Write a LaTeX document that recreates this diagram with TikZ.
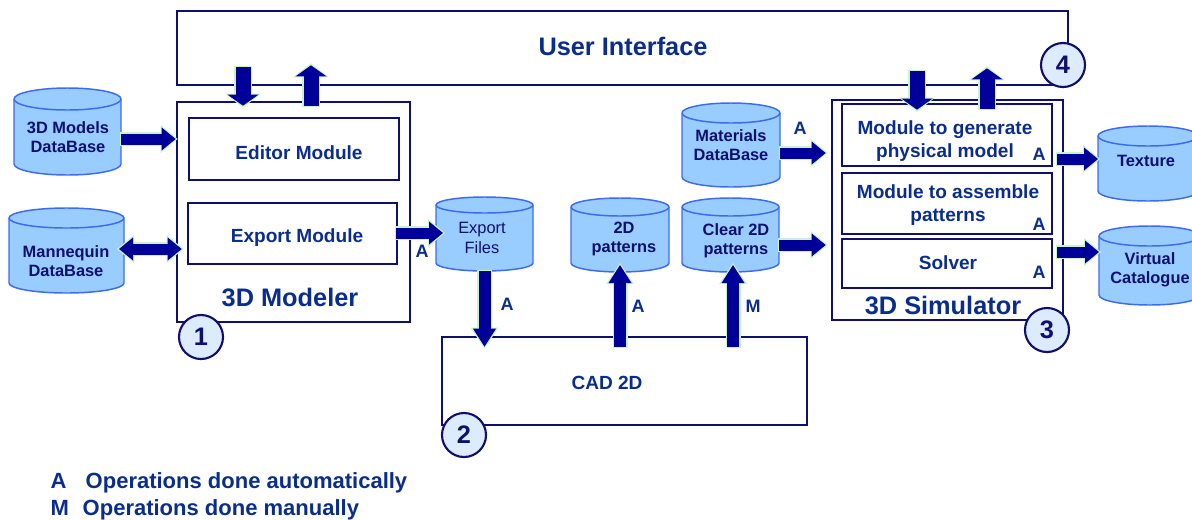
\documentclass[tikz,border=0pt]{standalone}
\usepackage{fontspec}
\setmainfont{Liberation Sans}
\usetikzlibrary{arrows.meta,calc,fit}

\definecolor{navyline}{HTML}{0F0F6E}
\definecolor{textblue}{HTML}{0A2D8C}
\definecolor{arrowblue}{HTML}{000099}
\definecolor{arrowedge}{HTML}{C8F5C8}
\definecolor{dbfill}{HTML}{99CCFF}
\definecolor{dbedge}{HTML}{3D6BF0}
\definecolor{circfill}{HTML}{DDEBFF}

% database cylinder: name, left, top, right, bottom, radius of the end ellipses
\newcommand\dbcyl[6]{%
  \path[dbshape] (#2,#3+#6) -- (#2,#5-#6)
    arc[start angle=180,end angle=0,x radius={(#4-#2)/2},y radius=#6]
    -- (#4,#3+#6)
    arc[start angle=0,end angle=-180,x radius={(#4-#2)/2},y radius=#6] -- cycle;
  \draw[dbshape,fill=none] (#2,#3+#6)
    arc[start angle=180,end angle=0,x radius={(#4-#2)/2},y radius=#6];
  \node[inner sep=0pt,outer sep=0pt,fit={(#2,#3) (#4,#5)}] (#1) {};
}
% block arrow: kind (big/med/dbl/cad), start, end
\newcommand\blockarrow[3]{%
  \draw[#1G] #2 -- #3;
  \draw[#1A] #2 -- #3;
}

\begin{document}
\begin{tikzpicture}[x=0.75pt,y=-0.75pt,
  frame/.style={draw=navyline,line width=2pt,inner sep=0pt},
  module/.style={draw=navyline,line width=1.8pt,inner sep=0pt},
  dbshape/.style={fill=dbfill,draw=dbedge,line width=1.1pt},
  title/.style={text=textblue,font=\bfseries\fontsize{19}{22}\selectfont},
  modtext/.style={text=textblue,align=center,font=\bfseries\fontsize{14.3}{17}\selectfont},
  dbtext/.style={text=navyline,align=center,font=\bfseries\fontsize{12.3}{14.5}\selectfont},
  lbl/.style={text=textblue,font=\bfseries\fontsize{13.5}{16}\selectfont},
  legend/.style={text=textblue,anchor=base west,font=\bfseries\fontsize{16.5}{19}\selectfont},
  numc/.style={circle,draw=navyline,line width=1.6pt,fill=circfill,minimum size=33pt,
    inner sep=0pt,text=navyline,font=\bfseries\fontsize{19}{22}\selectfont},
  bigA/.style={draw=arrowblue,line width=11.25pt,
    -{Triangle[length=8.25pt,width=23.25pt,line width=0pt]}},
  bigG/.style={draw=arrowedge,line width=13.5pt,shorten >=-1.5pt,shorten <=-1.1pt,
    -{Triangle[length=10.5pt,width=27pt,line width=0pt]}},
  medA/.style={draw=arrowblue,line width=8.25pt,
    -{Triangle[length=10.5pt,width=17.25pt,line width=0pt]}},
  medG/.style={draw=arrowedge,line width=10.5pt,shorten >=-1.5pt,shorten <=-1.1pt,
    -{Triangle[length=12.75pt,width=21pt,line width=0pt]}},
  dblA/.style={draw=arrowblue,line width=8.25pt,
    {Triangle[length=10.5pt,width=17.25pt,line width=0pt]}-{Triangle[length=10.5pt,width=17.25pt,line width=0pt]}},
  dblG/.style={draw=arrowedge,line width=10.5pt,shorten >=-1.5pt,shorten <=-1.5pt,
    {Triangle[length=12.75pt,width=21pt,line width=0pt]}-{Triangle[length=12.75pt,width=21pt,line width=0pt]}},
  cadA/.style={draw=arrowblue,line width=9pt,
    -{Triangle[length=13.5pt,width=17.25pt,line width=0pt]}},
  cadG/.style={draw=arrowedge,line width=11.25pt,shorten >=-1.5pt,shorten <=-1.1pt,
    -{Triangle[length=15.75pt,width=21pt,line width=0pt]}},
]
\useasboundingbox (0,0) rectangle (1192,519);
\clip (0,0) rectangle (1192,519);

% ---- blocks ----
\node[frame,fit={(177,11) (1068,85)}] (ui) {};
\node[frame,fit={(177,102) (410,322)}] (modeler) {};
\node[module,fit={(189,118) (399,180)}] (editor) {};
\node[module,fit={(188,203) (397,264)}] (exportm) {};
\node[frame,fit={(442,337) (807,425)}] (cad) {};
\node[frame,fit={(832,100) (1063,320)}] (sim) {};
\node[module,fit={(842,104) (1052,166)}] (gen) {};
\node[module,fit={(842,173) (1052,234)}] (asm) {};
\node[module,fit={(842,239) (1052,288)}] (solver) {};

\node[title] (uit) at (623,46) {User Interface};
\node[title] (modt) at (290,297) {3D Modeler};
\node[title] (simt) at (943,305) {3D Simulator};
\node[modtext] (editt) at (299,153) {Editor Module};
\node[modtext] (expt) at (297,238) {Export Module};
\node[modtext] (gent) at (945,141) {Module to generate\\physical model};
\node[modtext] (asmt) at (948,205) {Module to assemble\\patterns};
\node[modtext] (solt) at (948,263) {Solver};
\node[modtext] (cadt) at (607,383) {CAD 2D};

% ---- databases ----
\dbcyl{db3d}{14}{88}{121}{175}{11}
\dbcyl{mann}{9}{208}{124}{293}{10}
\dbcyl{expf}{436}{197}{533}{271}{8}
\dbcyl{pat2d}{571}{198}{669}{272}{9}
\dbcyl{clear}{682}{198}{779}{272}{9}
\dbcyl{mat}{682}{103}{780}{187}{10}
\dbcyl{tex}{1098}{126}{1198}{201}{10}
\dbcyl{virt}{1099}{226}{1200}{305}{10}

\node[dbtext] (db3dt) at (68,137) {3D Models\\DataBase};
\node[dbtext] (mannt) at (66,261) {Mannequin\\DataBase};
\node[dbtext,font=\fontsize{12.3}{14.5}\selectfont] (expft) at (482,238) {Export\\Files};
\node[dbtext] (pat2dt) at (624,239) {2D\\patterns};
\node[dbtext] (cleart) at (736,241) {Clear 2D\\patterns};
\node[dbtext] (matt) at (731,145) {Materials\\DataBase};
\node[dbtext] (text) at (1146,161) {Texture};
\node[dbtext] (virtt) at (1150,270) {Virtual\\Catalogue};

% ---- connectors ----
\blockarrow{big}{($(ui.south -| 243,0)+(0,-19)$)}{($(modeler.north -| 243,0)+(0,5)$)}
\blockarrow{big}{($(modeler.north -| 311,0)+(0,5)$)}{($(ui.south -| 311,0)+(0,-21)$)}
\blockarrow{big}{($(ui.south -| 917,0)+(0,-15)$)}{($(sim.north -| 917,0)+(0,11)$)}
\blockarrow{big}{($(sim.north -| 987,0)+(0,10)$)}{($(ui.south -| 987,0)+(0,-18)$)}

\blockarrow{med}{(db3d.east |- 0,139)}{(modeler.west |- 0,139)}
\blockarrow{dbl}{($(mann.east |- 0,249)+(-5,0)$)}{($(modeler.west |- 0,249)+(6,0)$)}
\blockarrow{med}{($(exportm.east |- 0,233)+(-2,0)$)}{($(expf.west |- 0,233)+(7,0)$)}
\blockarrow{med}{(mat.east |- 0,153)}{($(sim.west |- 0,153)+(-5,0)$)}
\blockarrow{med}{(clear.east |- 0,245)}{($(sim.west |- 0,245)+(-5,0)$)}
\blockarrow{med}{($(sim.east |- 0,159)+(-7,0)$)}{(tex.west |- 0,159)}
\blockarrow{med}{($(sim.east |- 0,252)+(-7,0)$)}{(virt.west |- 0,252)}

\blockarrow{cad}{(expf.south)}{($(cad.north -| expf.south)+(0,11)$)}
\blockarrow{cad}{($(cad.north -| pat2d.south)+(0,11)$)}{($(pat2d.south)+(0,-7)$)}
\blockarrow{cad}{($(cad.north -| 733,0)+(0,11)$)}{($(clear.south -| 733,0)+(0,-7)$)}

% ---- operation labels ----
\node[lbl] (la1) at (422,251) {A};
\node[lbl] (la2) at (507,304) {A};
\node[lbl] (la3) at (638,306) {A};
\node[lbl] (lm1) at (753,306) {M};
\node[lbl] (la4) at (800,128) {A};
\node[lbl] (la5) at (1039,154) {A};
\node[lbl] (la6) at (1039,224) {A};
\node[lbl] (la7) at (1039,272) {A};

% ---- numbered markers ----
\node[numc] (c1) at (201,337) {1};
\node[numc] (c2) at (464,435) {2};
\node[numc] (c3) at (1047,330) {3};
\node[numc] (c4) at (1063,65) {4};

% ---- legend ----
\node[legend] (legA) at (46,488) {A};
\node[legend] (legAt) at (81,488) {Operations done automatically};
\node[legend] (legM) at (46,515) {M};
\node[legend] (legMt) at (78,515) {Operations done manually};
\end{tikzpicture}
\end{document}
